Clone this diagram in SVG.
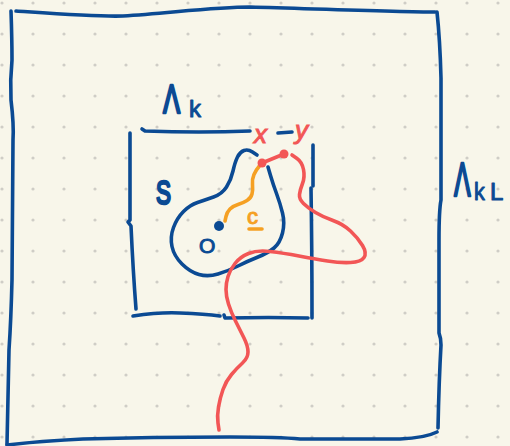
<svg xmlns="http://www.w3.org/2000/svg" width="510" height="446" viewBox="0 0 510 446">
<defs>
<pattern id="dots" x="0" y="0" width="31" height="31" patternUnits="userSpaceOnUse">
<circle cx="2" cy="3" r="1.6" fill="#cfcdc6"/>
</pattern>
<style>
.blue{fill:none;stroke:#0b4a93;stroke-width:3.6;stroke-linecap:round;stroke-linejoin:round}
.red{fill:none;stroke:#f25656;stroke-width:3.6;stroke-linecap:round;stroke-linejoin:round}
.orange{fill:none;stroke:#f5a023;stroke-width:3.6;stroke-linecap:round;stroke-linejoin:round}
.lb{font-family:"Liberation Sans",Arial,sans-serif;fill:#0b4a93;stroke:#0b4a93;stroke-width:1;stroke-linejoin:round}
.lbw{stroke-width:2.6}
.lr{font-family:"Liberation Sans",Arial,sans-serif;fill:#f25656;stroke:#f25656;stroke-width:1;font-style:italic}
.lo{font-family:"Liberation Sans",Arial,sans-serif;fill:#f5a023;stroke:#f5a023;stroke-width:1}
</style>
</defs>
<rect width="510" height="446" fill="#f8f6ea"/>
<rect width="510" height="446" fill="url(#dots)"/>

<g id="outer-box">
<path class="blue" d="M16,11 C60,14 100,17 123,16 C170,13 215,7 250,7 C320,9 400,12 435,12"/>
<path class="blue" d="M11,11 Q12,40 12,60 Q10,80 11,100 Q14,125 13,140 L12,280 Q11,320 9,350 L7,444"/>
<path class="blue" d="M7,445 Q40,441 83,439 Q150,437 230,437 Q280,437 300,439 L400,439 Q425,438 437,432"/>
<path class="blue" d="M437,12 Q440,40 441,78 L441,200 Q439,210 439,240 L439,333 Q441,338 441,345 Q439,380 438,428"/>
<text class="lb lbw" font-size="48" transform="translate(454,196) scale(0.52,1)">Λ</text>
<text class="lb" font-size="24" transform="translate(474,200) scale(0.9,1)">k</text>
<text class="lb" font-size="24" x="490" y="200">L</text>
</g>

<g id="inner-box">
<path class="blue" d="M142,129 L145,131 Q200,133 250,131"/>
<path class="blue" d="M278,133 L292,132"/>
<path class="blue" d="M130,133 L130,220 L128,222 L131,226 Q133,270 136,309"/>
<path class="blue" d="M133,316 Q160,312 180,313 Q205,314 220,316"/>
<path class="blue" d="M224,315 L225,318 Q270,317 308,318"/>
<path class="blue" d="M313,145 L313,186"/>
<path class="blue" d="M311,188 Q312,250 312,318"/>
<text class="lb lbw" font-size="40" transform="translate(163,113) scale(0.64,1)">Λ</text>
<text class="lb" font-size="24" x="189" y="117">k</text>
</g>

<g id="set-S">
<path class="blue" d="M257,155 L252.5,152 Q248,149 244,150.5 Q240,152 237.5,157 Q235,162 233,171 Q231,180 226.5,187 Q222,194 213.5,197 Q205,200 197.5,202.5 Q190,205 183.5,211.5 Q177,218 173.5,227.5 Q170,237 172,246.5 Q174,256 182,264 Q190,272 199,274.5 Q208,277 218,274 Q228,271 238,266 Q248,261 258,257 Q268,253 274,248 Q280,243 282.5,233 Q285,223 282.5,213 Q280,203 276.5,193.5 Q273,184 270.5,175.5 L268,167"/>
<text class="lb lbw" font-size="34" transform="translate(156,204) scale(0.66,1)">S</text>
</g>

<g id="origin">
<circle cx="219" cy="226" r="5" fill="#0b4a93"/>
<text class="lb" font-size="21" x="199" y="253">O</text>
</g>

<g id="connectors">
<path class="orange" d="M262,163 L259,166.5 Q256,170 254,174.5 Q252,179 252.5,184.5 Q253,190 252,194 Q251,198 247,200.5 Q243,203 238,204.5 Q233,206 230,209 Q227,212 226,216.5 L225,221"/>
<path class="red" d="M262,163 L284,154"/>
<path class="red" d="M292,155 L297,158.5 Q302,162 303.5,169.5 Q305,177 302.5,183.5 Q300,190 299.5,194.5 Q299,199 303.5,203.5 Q308,208 315.5,212.5 Q323,217 333,220.5 Q343,224 350.5,231 Q358,238 362.5,245.5 Q367,253 364,257.5 Q361,262 350.5,262.5 Q340,263 327.5,261 Q315,259 299,256 Q283,253 270,251.5 Q257,250 248.5,253.5 Q240,257 235,263.5 Q230,270 228,276.5 Q226,283 226,289.5 Q226,296 228.5,304 Q231,312 235.5,321 Q240,330 244,338 Q248,346 248,352 Q248,358 242.5,363 Q237,368 231.5,374.5 Q226,381 223,389.5 Q220,398 218.5,407 Q217,416 218,423 L219,430"/>
</g>

<g id="point-x">
<circle cx="262" cy="163" r="4.5" fill="#f25656"/>
<text class="lr" font-size="26" x="254" y="143">x</text>
</g>
<g id="point-y">
<circle cx="284" cy="154" r="4.5" fill="#f25656"/>
<text class="lr" font-size="26" x="295" y="139">y</text>
</g>

<g id="path-c">
<text class="lo" font-size="22" x="247" y="224">c</text>
<path class="orange" d="M249,229 L262,229" stroke-width="3"/>
</g>
</svg>
